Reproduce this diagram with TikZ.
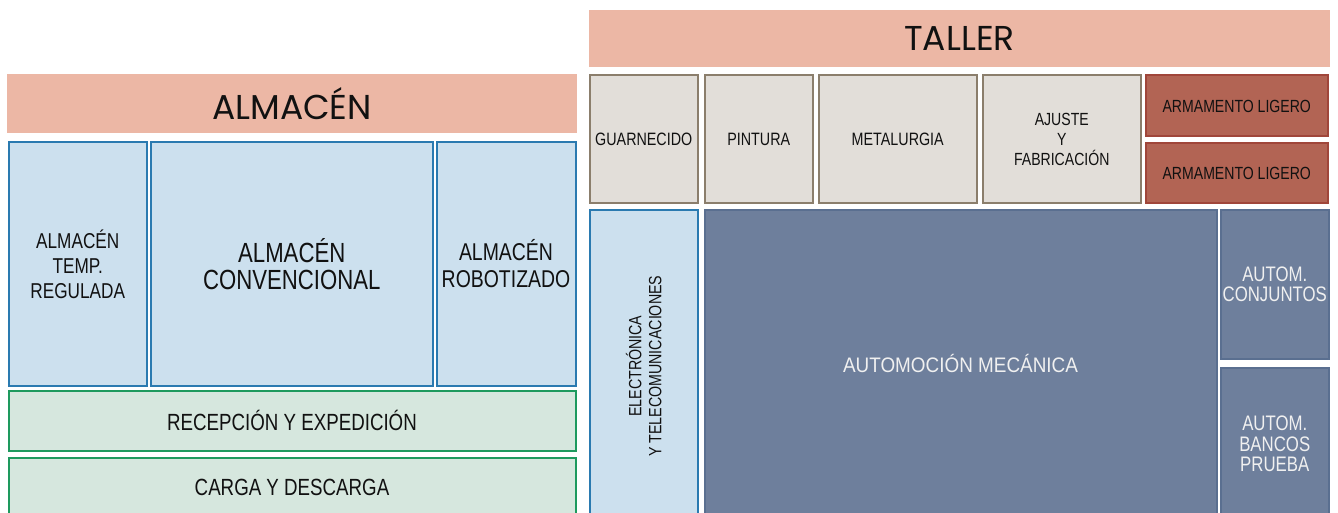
\documentclass[tikz,border=0pt]{standalone}
\usepackage{fontspec}
\setmainfont{Liberation Sans}
\newfontfamily\bodyfont[FakeStretch=0.8]{Liberation Sans}
\newfontfamily\widefont[FakeStretch=0.9]{Liberation Sans}
\newfontfamily\titlefont{Poppins}
\definecolor{banner}{HTML}{ECB7A5}
\definecolor{bluefill}{HTML}{CCE0EE}
\definecolor{blueline}{HTML}{2A7AB0}
\definecolor{greenfill}{HTML}{D6E7DE}
\definecolor{greenline}{HTML}{1E9A5E}
\definecolor{grayfill}{HTML}{E2DED9}
\definecolor{grayline}{HTML}{8B7E6C}
\definecolor{redfill}{HTML}{B26454}
\definecolor{redline}{HTML}{A0463A}
\definecolor{slatefill}{HTML}{6E7F9C}
\definecolor{slateline}{HTML}{5A6F90}
\definecolor{ink}{HTML}{111111}
\newcommand{\fs}[2]{\fontsize{#1}{#2}\selectfont}
\tikzset{
  area/.style={rectangle, inner sep=0pt, outer sep=0pt, align=center, text=ink},
  bannerbox/.style={area, fill=banner, font={\titlefont\fs{34.5}{38}}},
  store/.style={area, fill=bluefill, draw=blueline, line width=2pt},
  dock/.style={area, fill=greenfill, draw=greenline, line width=2pt},
  shop/.style={area, fill=grayfill, draw=grayline, line width=2pt},
  arms/.style={area, fill=redfill, draw=redline, line width=2pt},
  motor/.style={area, fill=slatefill, draw=slateline, line width=2pt, text=white!94!black},
}
% box from corner (x1,y1) to (x2,y2), in pixels measured from the top left;
% #7 is the font size and line spacing, #8 the text
\newcommand{\zone}[8]{%
  \node[#6, minimum width={(#4)-(#2)}, minimum height={(#5)-(#3)}, font={\bodyfont\fs#7}]
    (#1) at ({((#2)+(#4))/2},{((#3)+(#5))/2}) {#8};}
\begin{document}
\begin{tikzpicture}[x=1pt,y=-1pt]
\useasboundingbox (0,0) rectangle (1338,513);
\clip (0,0) rectangle (1338,513);
\fill[white] (0,0) rectangle (1338,513);

% ---- ALMACÉN ----
\node[bannerbox, minimum width=570, minimum height=59] (almacen) at (292,103.5) {ALMACÉN};
\zone{temp}{8.5}{142.5}{147}{385.5}{store}{{21.5}{25}}{ALMACÉN\\TEMP.\\REGULADA}
\zone{conv}{150.5}{142.5}{433}{385.5}{store}{{27.7}{27}}{ALMACÉN\\CONVENCIONAL}
\zone{robot}{436.5}{142.5}{575.5}{385.5}{store}{{24.3}{27}}{ALMACÉN\\ROBOTIZADO}
\zone{recep}{8.5}{390.5}{575.5}{450.5}{dock}{{23.4}{24}}{RECEPCIÓN Y EXPEDICIÓN}
\zone{carga}{8.5}{457.5}{575.5}{520}{dock}{{23.4}{24}}{\raisebox{3pt}{CARGA Y DESCARGA}}

% ---- TALLER ----
\node[bannerbox, minimum width=741, minimum height=57] (taller) at (959.5,38.5) {TALLER};
\zone{guarn}{589.5}{75.5}{698}{203.5}{shop}{{17.9}{20}}{GUARNECIDO}
\zone{pint}{704.5}{75.5}{813}{203.5}{shop}{{17.9}{20}}{PINTURA}
\zone{metal}{818.5}{75.5}{977}{203.5}{shop}{{17.9}{20}}{METALURGIA}
\zone{ajuste}{982.5}{75.5}{1141}{203.5}{shop}{{17.6}{20}}{AJUSTE\\Y\\FABRICACIÓN}
\zone{arma1}{1146}{75.5}{1327.5}{136.5}{arms}{{17.6}{20}}{ARMAMENTO LIGERO}
\zone{arma2}{1146}{143}{1327.5}{203.5}{arms}{{17.6}{20}}{ARMAMENTO LIGERO}
\zone{electro}{589.5}{210.5}{698}{520}{store}{{17.6}{20}}{}
\node[area, rotate=90, font={\bodyfont\fs{17.8}{20}}] (electrotxt) at ([yshift=-1pt]electro.center)
  {ELECTRÓNICA\\Y TELECOMUNICACIONES};
\zone{mecanica}{704.5}{210.5}{1216.5}{520}{motor}{{21}{24}}{\raisebox{4pt}{\widefont AUTOMOCIÓN MECÁNICA}}
\zone{conjuntos}{1221}{210.5}{1328.5}{359}{motor}{{21}{20}}{AUTOM.\\CONJUNTOS}
\zone{bancos}{1221}{368}{1328.5}{520}{motor}{{21}{20.5}}{\raisebox{4pt}{\parbox{3cm}{\centering AUTOM.\\BANCOS\\PRUEBA}}}
\end{tikzpicture}
\end{document}
